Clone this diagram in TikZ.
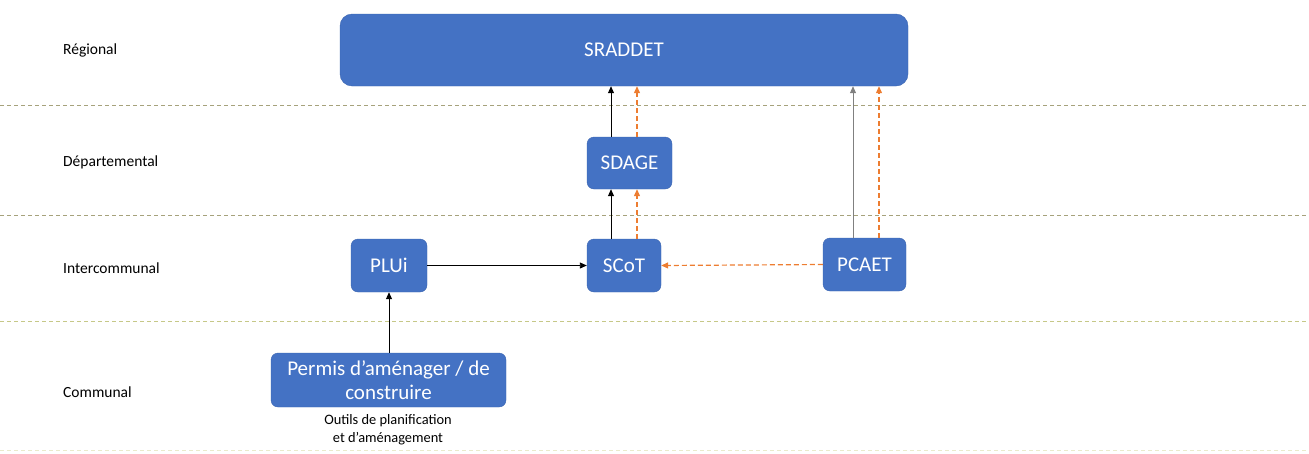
\documentclass[tikz,border=0pt]{standalone}
\usepackage{fontspec}
\setmainfont{Carlito}
\usetikzlibrary{arrows.meta}
\definecolor{boxblue}{HTML}{4472C4}
\definecolor{boxedge}{HTML}{3A64B0}
\definecolor{sepcol}{HTML}{A6A27C}
\definecolor{sepcol2}{HTML}{C6C888}
\definecolor{sepcol3}{HTML}{EAEACB}
\definecolor{orangec}{HTML}{ED7D31}
\tikzset{
  bluebox/.style={draw=boxedge, fill=boxblue, rounded corners=7pt, text=white, font=\fontsize{21}{24.5}\selectfont, align=center, inner sep=0pt},
  levellabel/.style={anchor=west, font=\fontsize{15.5}{18}\selectfont, text=black, inner sep=0pt},
  sep/.style={draw=sepcol, dash pattern=on 4pt off 3pt, line width=0.9pt},
  blackarrow/.style={draw=black, line width=0.9pt, -{Triangle[length=7pt,width=6pt]}},
  grayarrow/.style={draw=gray, line width=0.9pt, -{Triangle[length=7pt,width=6pt]}},
  orangearrow/.style={draw=orangec, line width=1.2pt, dash pattern=on 5pt off 3pt, -{Triangle[length=7pt,width=6pt]}},
}
\begin{document}
\begin{tikzpicture}[x=1pt,y=-1pt]
\useasboundingbox (0,0) rectangle (1309,453);
% separators
\draw[sep] (0,105) -- (1309,105);
\draw[sep] (0,215) -- (1309,215);
\draw[sep, draw=sepcol2] (0,321) -- (1309,321);
\draw[sep, draw=sepcol3] (0,450) -- (1309,450);
% level labels
\node[levellabel] (lreg) at (63,50) {Régional};
\node[levellabel] (ldep) at (63,162) {Départemental};
\node[levellabel] (lint) at (63,268) {Intercommunal};
\node[levellabel] (lcom) at (63,392) {Communal};
% boxes
\node[bluebox, minimum width=568pt, minimum height=72pt, rounded corners=12pt] (sraddet) at (624,50) {SRADDET};
\node[bluebox, minimum width=85pt, minimum height=52pt] (sdage) at (629.5,163) {SDAGE};
\node[bluebox, minimum width=74pt, minimum height=53pt] (scot) at (624,265.5) {SCoT};
\node[bluebox, minimum width=83pt, minimum height=53pt] (pcaet) at (864.5,264.5) {PCAET};
\node[bluebox, minimum width=76pt, minimum height=53pt] (plui) at (389,265.5) {PLUi};
\node[bluebox, minimum width=235pt, minimum height=54pt] (permis) at (388.5,380) {Permis d’aménager / de\\construire};
\node[font=\fontsize{14.4}{18}\selectfont, align=center, anchor=north, inner sep=0pt] (outils) at (388,414.5) {Outils de planification\\et d’aménagement};
% arrows
\draw[blackarrow] (sdage.north -| 611,0) -- (sraddet.south -| 611,0);
\draw[orangearrow] (sdage.north -| 637,0) -- (sraddet.south -| 637,0);
\draw[blackarrow] (scot.north -| 611,0) -- (sdage.south -| 611,0);
\draw[orangearrow] (scot.north -| 637,0) -- (sdage.south -| 637,0);
\draw[grayarrow] (pcaet.north -| 853,0) -- (sraddet.south -| 853,0);
\draw[orangearrow] (pcaet.north -| 879,0) -- (sraddet.south -| 879,0);
\draw[blackarrow] (plui.east) -- (scot.west);
\draw[orangearrow] (pcaet.west) -- (scot.east);
\draw[blackarrow] (permis.north -| plui.south) -- (plui.south);
\end{tikzpicture}
\end{document}
